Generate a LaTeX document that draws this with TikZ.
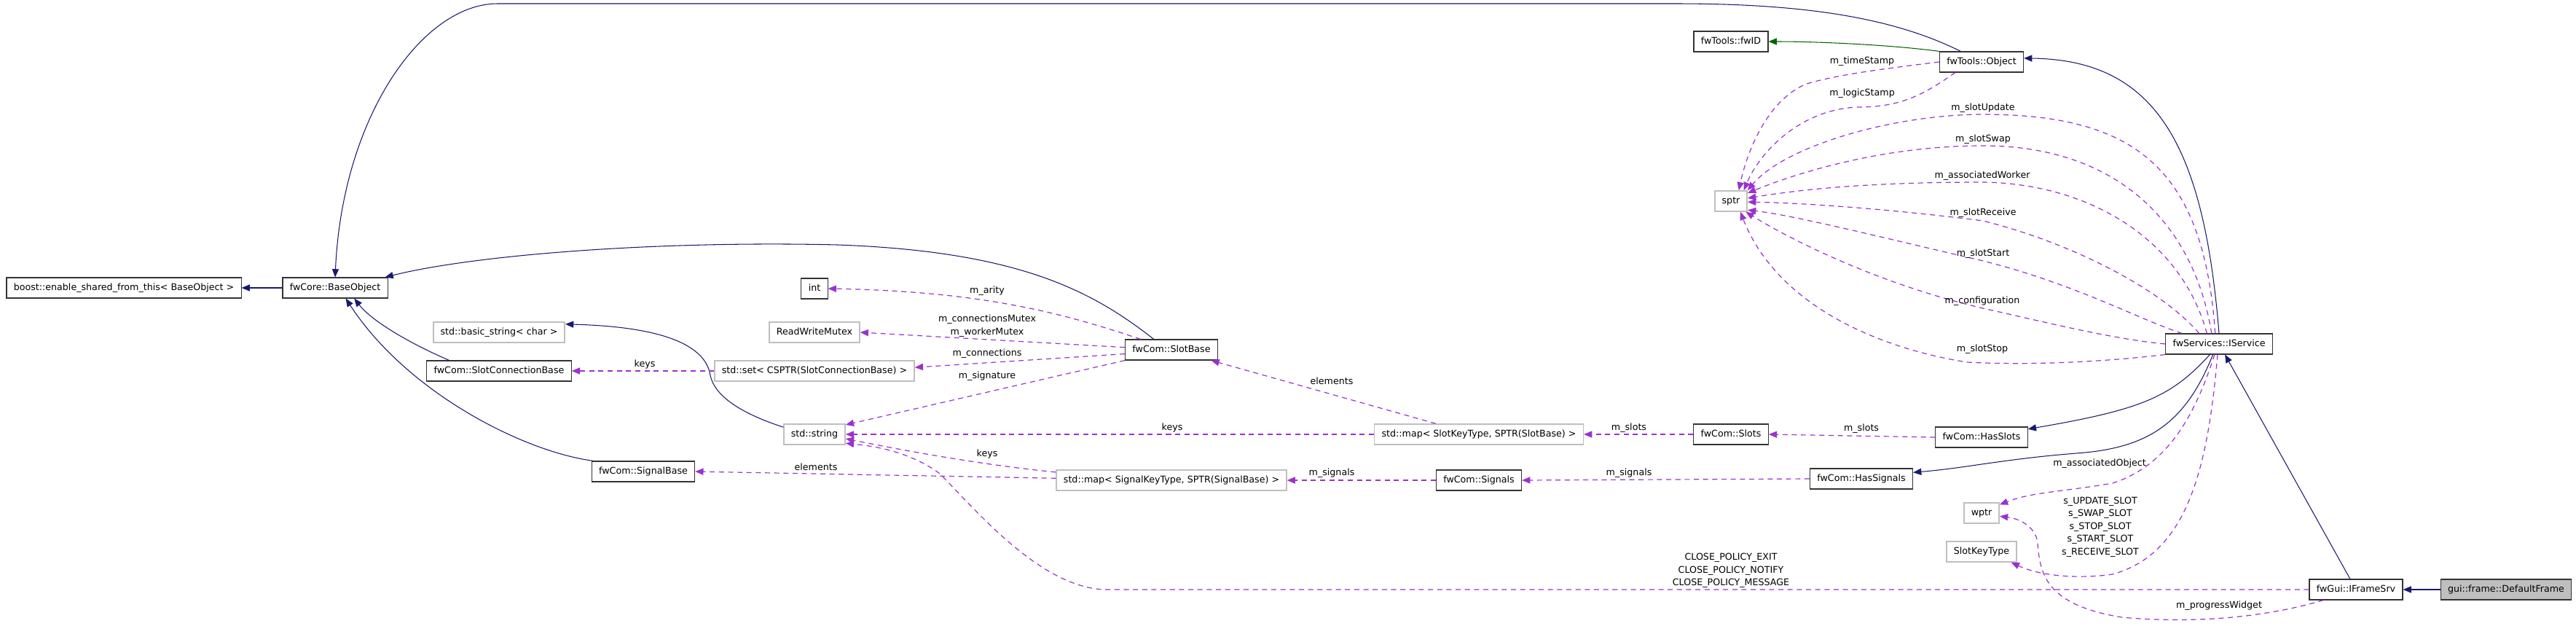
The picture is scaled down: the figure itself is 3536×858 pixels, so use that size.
\documentclass[tikz,border=0pt]{standalone}
\usepackage{fontspec}
\setmainfont{DejaVu Sans}
\usetikzlibrary{arrows.meta}
\definecolor{inhblue}{HTML}{191970}
\definecolor{memberpurple}{HTML}{9A32CD}
\definecolor{protgreen}{HTML}{006400}
\definecolor{boxgrey}{HTML}{BFBFBF}
\tikzset{
  cls/.style={draw=black!80, line width=0.8pt, fill=white, minimum height=0.7cm,
    inner xsep=7pt, inner ysep=0pt, text height=7pt, text depth=2pt,
    font=\fontsize{9}{11}\selectfont},
  ext/.style={cls, draw=boxgrey, line width=1.1pt},
  cur/.style={cls, fill=boxgrey},
  inh/.style={draw=inhblue, line width=0.75pt, -{Triangle[length=8pt,width=6.5pt]}},
  prot/.style={inh, draw=protgreen},
  member/.style={draw=memberpurple, line width=0.85pt, dash pattern=on 5pt off 4pt,
    -{Triangle[length=8pt,width=6.5pt]}},
  lbl/.style={font=\fontsize{9}{12.4}\selectfont, inner sep=0pt, align=center}
}
\begin{document}
\begin{tikzpicture}[x=0.025cm, y=-0.025cm]
    \useasboundingbox (0,0) rectangle (3536,858);

    % classes
    \node[cls] (boost) at (170,395) {boost::enable\_shared\_from\_this< BaseObject >};
    \node[cls] (base) at (460,395) {fwCore::BaseObject};
    \node[cls] (fwid) at (2376,57) {fwTools::fwID};
    \node[cls] (object) at (2720,85) {fwTools::Object};
    \node[ext] (sptr) at (2376,276) {sptr};
    \node[cls] (int) at (1118,396) {int};
    \node[ext] (rwm) at (1118,456) {ReadWriteMutex};
    \node[ext] (bstr) at (685,456) {std::basic\_string< char >};
    \node[cls] (scb) at (685,509) {fwCom::SlotConnectionBase};
    \node[ext] (sset) at (1118,509) {std::set< CSPTR(SlotConnectionBase) >};
    \node[cls] (slotbase) at (1608,480) {fwCom::SlotBase};
    \node[ext] (str) at (1118,596) {std::string};
    \node[ext] (mapslot) at (2030,596) {std::map< SlotKeyType, SPTR(SlotBase) >};
    \node[cls] (slots) at (2376,596) {fwCom::Slots};
    \node[cls] (hasslots) at (2720,600) {fwCom::HasSlots};
    \node[ext] (mapsig) at (1608,659) {std::map< SignalKeyType, SPTR(SignalBase) >};
    \node[cls] (signals) at (2030,659) {fwCom::Signals};
    \node[cls] (hassignals) at (2555,657) {fwCom::HasSignals};
    \node[cls] (sigbase) at (883,647) {fwCom::SignalBase};
    \node[cls] (iservice) at (3046,472) {fwServices::IService};
    \node[ext] (wptr) at (2720,704) {wptr};
    \node[ext] (skt) at (2720,757) {SlotKeyType};
    \node[cls] (iframe) at (3234,809) {fwGui::IFrameSrv};
    \node[cur] (dframe) at (3440,809) {gui::frame::DefaultFrame};

    % inheritance
    \draw[inh] (base) -- (boost);
    \draw[inh] (object.153) .. controls (2600,25) and (2480,5) .. (2300,5) -- (683,5)
        .. controls (580,5) and (470,160) .. (base.north);
    \draw[inh] (slotbase.149) .. controls (1500,400) and (1400,345) .. (1150,336)
        .. controls (900,330) and (650,350) .. (base.12);
    \draw[inh] (scb.168) .. controls (560,470) and (510,440) .. (base.-29);
    \draw[inh] (sigbase.168) .. controls (720,620) and (560,540) .. (base.-45);
    \draw[inh] (str.167) .. controls (1010,565) and (980,540) .. (975,515)
        .. controls (968,470) and (900,448) .. (bstr.7);
    \draw[inh] (iservice.north) .. controls (3025,200) and (2960,82) .. (object.5);
    \draw[inh] (iservice.-131) .. controls (2980,545) and (2940,562) .. (hasslots.10);
    \draw[inh] (iservice.-120) .. controls (3000,580) and (2950,615) .. (2850,622)
        .. controls (2750,630) and (2700,642) .. (hassignals.7);
    \draw[inh] (iframe) -- (iservice);
    \draw[inh] (dframe) -- (iframe);
    \draw[prot] (object.north west) .. controls (2600,62) and (2500,57) .. (fwid.east);

    % members of fwTools::Object
    \draw[member] (object.west) .. controls (2580,95) and (2520,103) .. (2480,115)
        .. controls (2430,135) and (2400,200) .. (sptr.54);
    \draw[member] (object.-158) .. controls (2640,130) and (2610,147) .. (2550,147)
        .. controls (2470,150) and (2415,210) .. (sptr.40);
    \node[lbl] (lTime) at (2556,84) {m\_timeStamp};
    \node[lbl] (lLogic) at (2556,128) {m\_logicStamp};

    % members of fwServices::IService
    \draw[member] (iservice.110) .. controls (3025,230) and (2930,157) .. (2722,157)
        .. controls (2600,157) and (2450,200) .. (sptr.33);
    \draw[member] (iservice.125) .. controls (3010,300) and (2900,200) .. (2722,200)
        .. controls (2580,200) and (2460,240) .. (sptr.26);
    \draw[member] (iservice.139) .. controls (2995,330) and (2870,252) .. (2722,250)
        .. controls (2550,250) and (2460,262) .. (sptr.10);
    \draw[member] (iservice.152) .. controls (2970,400) and (2850,335) .. (2722,303)
        .. controls (2580,285) and (2460,278) .. (sptr.-3);
    \draw[member] (iservice.164) .. controls (2940,440) and (2850,390) .. (2722,358)
        .. controls (2580,325) and (2460,295) .. (sptr.-28);
    \draw[member] (iservice.west) .. controls (2900,465) and (2820,445) .. (2722,423)
        .. controls (2580,390) and (2460,330) .. (sptr.-36);
    \draw[member] (iservice.south west) .. controls (2900,495) and (2800,502) .. (2700,497)
        .. controls (2580,478) and (2440,420) .. (sptr.-49);
    \node[lbl] (lUpdate) at (2722,148) {m\_slotUpdate};
    \node[lbl] (lSwap) at (2722,191) {m\_slotSwap};
    \node[lbl] (lWorker) at (2721,241) {m\_associatedWorker};
    \node[lbl] (lReceive) at (2722,292) {m\_slotReceive};
    \node[lbl] (lStart) at (2722,348) {m\_slotStart};
    \node[lbl] (lConfig) at (2721,413) {m\_configuration};
    \node[lbl] (lStop) at (2721,479) {m\_slotStop};

    \draw[member] (iservice.-113) .. controls (3010,580) and (2970,640) .. (2900,663)
        .. controls (2830,675) and (2790,675) .. (wptr.25);
    \node[lbl] (lObject) at (2882,636) {m\_associatedObject};
    \draw[member] (iservice.-98) .. controls (3030,650) and (3000,760) .. (2900,788)
        .. controls (2850,795) and (2800,790) .. (skt.-20);
    \node[lbl] (lSlotKeys) at (2883,723) {s\_UPDATE\_SLOT\\s\_SWAP\_SLOT\\s\_STOP\_SLOT\\s\_START\_SLOT\\s\_RECEIVE\_SLOT};

    % members of fwGui::IFrameSrv
    \draw[member] (iframe.-162) .. controls (3100,850) and (3000,855) .. (2912,847)
        .. controls (2810,830) and (2800,790) .. (2797,745)
        .. controls (2795,725) and (2775,712) .. (wptr.-10);
    \node[lbl] (lProgress) at (3046,831) {m\_progressWidget};
    \draw[member] (iframe.west) -- (1520,809) .. controls (1430,809) and (1340,700) .. (1290,650)
        .. controls (1250,620) and (1200,612) .. (str.-16);
    \node[lbl] (lPolicy) at (2376,783) {CLOSE\_POLICY\_EXIT\\CLOSE\_POLICY\_NOTIFY\\CLOSE\_POLICY\_MESSAGE};

    % slots and signals
    \draw[member] (hasslots.west) -- (slots.east);
    \node[lbl] (lHasSlots) at (2555,588) {m\_slots};
    \draw[member] (hassignals.west) -- (signals.east);
    \node[lbl] (lHasSignals) at (2236,649) {m\_signals};
    \draw[member] (slots.west) -- (mapslot.east);
    \node[lbl] (lSlots) at (2236,587) {m\_slots};
    \draw[member] (signals.west) -- (mapsig.east);
    \node[lbl] (lSignals) at (1828,649) {m\_signals};
    \draw[member] (mapslot.west) -- (str.east);
    \node[lbl] (lKeysSlot) at (1609,587) {keys};
    \draw[member] (mapslot.166) -- (slotbase.-15);
    \node[lbl] (lElemSlot) at (1828,523) {elements};
    \draw[member] (mapsig.176) .. controls (1350,638) and (1250,620) .. (str.-8);
    \node[lbl] (lKeysSig) at (1355,623) {keys};
    \draw[member] (mapsig.179) -- (sigbase.east);
    \node[lbl] (lElemSig) at (1120,641) {elements};
    \draw[member] (sset.west) -- (scb.east);
    \node[lbl] (lKeysSet) at (885,500) {keys};

    % members of fwCom::SlotBase
    \draw[member] (slotbase.161) .. controls (1460,430) and (1350,400) .. (int.east);
    \node[lbl] (lArity) at (1355,399) {m\_arity};
    \draw[member] (slotbase.177) -- (rwm.east);
    \node[lbl] (lMutex) at (1355,447) {m\_connectionsMutex\\m\_workerMutex};
    \draw[member] (slotbase.-175) -- (sset.2);
    \node[lbl] (lConn) at (1355,485) {m\_connections};
    \draw[member] (slotbase.south west) -- (str.17);
    \node[lbl] (lSign) at (1355,516) {m\_signature};
\end{tikzpicture}
\end{document}
